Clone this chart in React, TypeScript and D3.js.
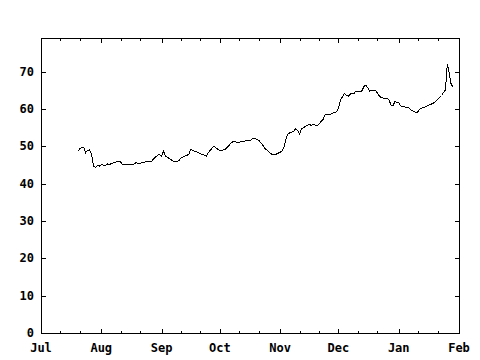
import * as d3 from "d3";
import { useEffect, useRef } from "react";

const dates = [
  "2005-07-20", "2005-07-21", "2005-07-23", "2005-07-24", "2005-07-25", "2005-07-26", "2005-07-27", "2005-07-28",
  "2005-07-29", "2005-07-30", "2005-07-31", "2005-08-01", "2005-08-03", "2005-08-04", "2005-08-05", "2005-08-07",
  "2005-08-08", "2005-08-09", "2005-08-11", "2005-08-12", "2005-08-16", "2005-08-18", "2005-08-19", "2005-08-20",
  "2005-08-22", "2005-08-25", "2005-08-27", "2005-08-28", "2005-08-30", "2005-08-31", "2005-09-01", "2005-09-02",
  "2005-09-03", "2005-09-04", "2005-09-05", "2005-09-07", "2005-09-08", "2005-09-10", "2005-09-11", "2005-09-13",
  "2005-09-15", "2005-09-16", "2005-09-17", "2005-09-19", "2005-09-21", "2005-09-23", "2005-09-24", "2005-09-25",
  "2005-09-26", "2005-09-27", "2005-09-28", "2005-09-29", "2005-10-01", "2005-10-02", "2005-10-04", "2005-10-05",
  "2005-10-07", "2005-10-08", "2005-10-10", "2005-10-11", "2005-10-13", "2005-10-15", "2005-10-17", "2005-10-18",
  "2005-10-20", "2005-10-21", "2005-10-23", "2005-10-24", "2005-10-26", "2005-10-28", "2005-10-30", "2005-11-01",
  "2005-11-02", "2005-11-03", "2005-11-04", "2005-11-05", "2005-11-06", "2005-11-08", "2005-11-09", "2005-11-10",
  "2005-11-11", "2005-11-12", "2005-11-13", "2005-11-15", "2005-11-16", "2005-11-17", "2005-11-18", "2005-11-20",
  "2005-11-21", "2005-11-22", "2005-11-23", "2005-11-24", "2005-11-25", "2005-11-27", "2005-11-28", "2005-11-30",
  "2005-12-01", "2005-12-02", "2005-12-04", "2005-12-05", "2005-12-06", "2005-12-07", "2005-12-08", "2005-12-09",
  "2005-12-10", "2005-12-12", "2005-12-13", "2005-12-14", "2005-12-15", "2005-12-16", "2005-12-17", "2005-12-18",
  "2005-12-20", "2005-12-22", "2005-12-23", "2005-12-25", "2005-12-26", "2005-12-27", "2005-12-28", "2005-12-29",
  "2005-12-30", "2006-01-01", "2006-01-02", "2006-01-03", "2006-01-05", "2006-01-06", "2006-01-07", "2006-01-09",
  "2006-01-10", "2006-01-11", "2006-01-12", "2006-01-14", "2006-01-16", "2006-01-19", "2006-01-21", "2006-01-23",
  "2006-01-25", "2006-01-26", "2006-01-27", "2006-01-28", "2006-01-29",
];

const values = [
  48.7, 49.4, 49.8, 48.3, 48.9, 49.1, 47.8, 44.7,
  44.4, 44.8, 44.7, 45.1, 44.8, 45.3, 45.1, 45.5,
  45.6, 46.0, 45.8, 45.0, 45.0, 45.3, 45.7, 45.3,
  45.6, 46.0, 46.0, 46.7, 47.6, 47.8, 47.4, 48.7,
  47.4, 47.1, 46.7, 46.0, 45.8, 46.2, 46.9, 47.4,
  47.8, 49.1, 48.9, 48.5, 48.0, 47.6, 47.4, 48.3,
  48.9, 49.5, 50.1, 49.5, 48.9, 48.8, 49.3, 49.8,
  51.0, 51.3, 51.1, 51.1, 51.3, 51.5, 51.7, 52.2,
  51.9, 51.6, 50.4, 49.5, 48.6, 47.7, 47.9, 48.4,
  48.8, 49.9, 52.0, 53.3, 53.6, 54.0, 54.7, 54.2,
  53.3, 54.7, 55.0, 55.6, 55.9, 55.6, 55.8, 55.6,
  55.9, 56.6, 57.1, 58.4, 58.6, 58.6, 58.9, 59.2,
  60.2, 62.3, 64.1, 63.7, 63.4, 63.9, 64.3, 64.1,
  64.8, 64.8, 64.8, 65.9, 66.4, 65.7, 64.8, 65.0,
  65.0, 63.5, 63.0, 62.8, 62.8, 62.5, 61.0, 60.8,
  61.9, 61.7, 60.8, 60.7, 60.4, 60.4, 59.8, 59.3,
  58.9, 59.3, 60.1, 60.4, 60.9, 61.6, 62.5, 63.6,
  65.1, 72.0, 69.5, 66.5, 66.0,
];

const yTicks = [0, 10, 20, 30, 40, 50, 60, 70];
const xStart = "2005-07-01";
const xEnd = "2006-02-01";

const App = () => {
  const ref = useRef<SVGSVGElement>(null);

  useEffect(() => {
    const svg = d3.select(ref.current);
    svg.selectAll("*").remove();

    const left = 41, right = 459, top = 38, bottom = 333;
    const parse = d3.timeParse("%Y-%m-%d");
    const x = d3.scaleTime()
      .domain([parse(xStart)!, parse(xEnd)!])
      .range([left, right]);
    const y = d3.scaleLinear().domain([0, 79]).range([bottom, top]);

    const font = "'DejaVu Sans Mono', monospace";
    const g = svg.append("g").attr("shape-rendering", "crispEdges");

    // frame
    g.append("rect")
      .attr("x", left + 0.5)
      .attr("y", top + 0.5)
      .attr("width", right - left)
      .attr("height", bottom - top)
      .attr("fill", "none")
      .attr("stroke", "#000");

    // y ticks, mirrored on the right
    yTicks.forEach((v) => {
      const yy = Math.round(y(v)) + 0.5;
      g.append("line").attr("x1", left).attr("x2", left + 5).attr("y1", yy).attr("y2", yy).attr("stroke", "#000");
      g.append("line").attr("x1", right + 1).attr("x2", right - 4).attr("y1", yy).attr("y2", yy).attr("stroke", "#000");
      svg.append("text")
        .attr("x", 34)
        .attr("y", y(v) + 4)
        .attr("text-anchor", "end")
        .attr("font-family", font)
        .attr("font-weight", "bold")
        .attr("font-size", 12)
        .text(v);
    });

    // x ticks: months major, 11th and 21st minor
    const months = d3.timeMonth.range(x.domain()[0], d3.timeDay.offset(x.domain()[1], 1));
    months.forEach((m, i) => {
      const xx = Math.round(x(m)) + 0.5;
      if (i > 0 && i < months.length - 1) {
        g.append("line").attr("x1", xx).attr("x2", xx).attr("y1", bottom).attr("y2", bottom - 4).attr("stroke", "#000");
        g.append("line").attr("x1", xx).attr("x2", xx).attr("y1", top + 1).attr("y2", top + 5).attr("stroke", "#000");
      }
      if (i < months.length - 1) {
        [10, 20].forEach((d) => {
          const mx = Math.round(x(d3.timeDay.offset(m, d))) + 0.5;
          g.append("line").attr("x1", mx).attr("x2", mx).attr("y1", bottom).attr("y2", bottom - 2).attr("stroke", "#000");
          g.append("line").attr("x1", mx).attr("x2", mx).attr("y1", top + 1).attr("y2", top + 3).attr("stroke", "#000");
        });
      }
      svg.append("text")
        .attr("x", x(m))
        .attr("y", 352)
        .attr("text-anchor", "middle")
        .attr("font-family", font)
        .attr("font-weight", "bold")
        .attr("font-size", 12)
        .text(d3.timeFormat("%b")(m));
    });

    const data = dates.map((d, i) => ({ date: parse(d)!, value: values[i] }));
    const line = d3.line<{ date: Date; value: number }>()
      .x((d) => x(d.date))
      .y((d) => y(d.value));

    svg.append("path")
      .datum(data)
      .attr("d", line)
      .attr("fill", "none")
      .attr("stroke", "#000")
      .attr("stroke-width", 1)
      .attr("shape-rendering", "crispEdges");
  }, []);

  return (
    <div>
      <svg
        ref={ref}
        width={480}
        height={360}
        style={{ position: "absolute", left: 0, top: 0, background: "#fff" }}
      ></svg>
    </div>
  );
};

export default App;
